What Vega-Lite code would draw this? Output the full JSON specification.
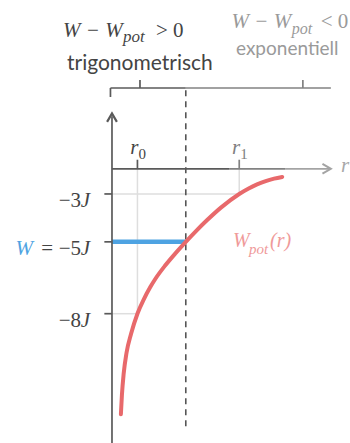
{
  "$schema": "https://vega.github.io/schema/vega-lite/v6.json",
  "width": 350,
  "height": 443,
  "autosize": "none",
  "padding": 0,
  "background": "white",
  "config": {"view": {"stroke": null}, "text": {"font": "Liberation Serif"}},
  "datasets": {
    "curve": [
      {"r": 0.35, "W": -12.2},
      {"r": 0.39, "W": -11.4},
      {"r": 0.46, "W": -10.5},
      {"r": 0.57, "W": -9.64},
      {"r": 0.75, "W": -8.84},
      {"r": 1.0, "W": -8.0},
      {"r": 1.25, "W": -7.4},
      {"r": 1.5, "W": -6.9},
      {"r": 1.72, "W": -6.52},
      {"r": 2.08, "W": -6.0},
      {"r": 2.5, "W": -5.47},
      {"r": 2.9, "W": -5.0},
      {"r": 3.32, "W": -4.53},
      {"r": 3.74, "W": -4.09},
      {"r": 4.28, "W": -3.57},
      {"r": 5.0, "W": -3.0},
      {"r": 5.37, "W": -2.77},
      {"r": 5.7, "W": -2.6},
      {"r": 6.04, "W": -2.46},
      {"r": 6.37, "W": -2.36},
      {"r": 6.69, "W": -2.29}
    ],
    "levels": [
      {"W": -3, "num": "−3"},
      {"W": -5, "num": "−5"},
      {"W": -8, "num": "−8"}
    ],
    "radii": [
      {"r": 1, "sub": "0"},
      {"r": 5, "sub": "1"}
    ],
    "turning": [{"W": -5, "r_start": 0, "r_turn": 2.9}],
    "guides": [
      {"r": 0, "r2": 5, "W": -3, "W2": -3},
      {"r": 5, "r2": 5, "W": -1.95, "W2": -3},
      {"r": 1, "r2": 1, "W": -1.95, "W2": -8},
      {"r": 0, "r2": 1, "W": -8, "W2": -8}
    ],
    "frame": [
      {"part": "W-axis", "r": 0, "r2": 0, "W": -13.4, "W2": 0.25},
      {"part": "r-axis-near", "r": 0, "r2": 4.6, "W": -1.95, "W2": -1.95},
      {"part": "r-axis-mid", "r": 4.6, "r2": 6.8, "W": -1.95, "W2": -1.95},
      {"part": "r-axis-far", "r": 6.8, "r2": 8.55, "W": -1.95, "W2": -1.95},
      {"part": "W-tick", "r": -0.3, "r2": 0, "W": -3, "W2": -3},
      {"part": "W-tick", "r": -0.3, "r2": 0, "W": -5, "W2": -5},
      {"part": "W-tick", "r": -0.3, "r2": 0, "W": -8, "W2": -8},
      {"part": "r-tick-near", "r": 1, "r2": 1, "W": -1.95, "W2": -1.57},
      {"part": "r-tick-far", "r": 5, "r2": 5, "W": -1.95, "W2": -1.57},
      {"part": "bracket-near", "r": -0.06, "r2": 2.9, "W": 1.425, "W2": 1.425},
      {"part": "bracket-near", "r": -0.06, "r2": -0.06, "W": 1.425, "W2": 1.05},
      {"part": "bracket-near", "r": 1.1, "r2": 1.1, "W": 1.425, "W2": 1.76},
      {"part": "bracket-far", "r": 2.9, "r2": 8.6, "W": 1.425, "W2": 1.425},
      {"part": "bracket-far", "r": 7.5, "r2": 7.5, "W": 1.425, "W2": 1.76},
      {"part": "turning-line", "r": 2.9, "r2": 2.9, "W": -12.7, "W2": 1.42}
    ]
  },
  "layer": [
    {
      "data": {"name": "guides"},
      "mark": {"type": "rule", "color": "#dedede", "strokeWidth": 1.5},
      "encoding": {
        "x": {"field": "r", "type": "quantitative", "axis": null, "scale": {"domain": [-4.4, 9.352], "nice": false, "zero": false}},
        "x2": {"field": "r2"},
        "y": {"field": "W", "type": "quantitative", "axis": null, "scale": {"domain": [-13.4, 5.1], "nice": false, "zero": false}},
        "y2": {"field": "W2"}
      }
    },
    {
      "data": {"name": "turning"},
      "mark": {"type": "rule", "color": "#4ea3e2", "strokeWidth": 4.5},
      "encoding": {
        "x": {"field": "r_start", "type": "quantitative", "axis": null},
        "x2": {"field": "r_turn"},
        "y": {"field": "W", "type": "quantitative", "axis": null}
      }
    },
    {
      "data": {"name": "frame"},
      "transform": [{"filter": {"field": "part", "equal": "turning-line"}}],
      "mark": {"type": "rule", "color": "#555555", "strokeWidth": 1.6, "strokeDash": [6, 5]},
      "encoding": {
        "x": {"field": "r", "type": "quantitative", "axis": null},
        "x2": {"field": "r2"},
        "y": {"field": "W", "type": "quantitative", "axis": null},
        "y2": {"field": "W2"}
      }
    },
    {
      "data": {"name": "curve"},
      "mark": {"type": "line", "color": "#e8696b", "strokeWidth": 4, "strokeCap": "round", "interpolate": "monotone"},
      "encoding": {
        "x": {"field": "r", "type": "quantitative", "axis": null},
        "y": {"field": "W", "type": "quantitative", "axis": null}
      }
    },
    {
      "data": {"name": "frame"},
      "transform": [{"filter": {"field": "part", "oneOf": ["W-axis", "r-axis-near", "W-tick", "r-tick-near", "bracket-near"]}}],
      "mark": {"type": "rule", "color": "#5a5a5a", "strokeWidth": 1.7},
      "encoding": {
        "x": {"field": "r", "type": "quantitative", "axis": null},
        "x2": {"field": "r2"},
        "y": {"field": "W", "type": "quantitative", "axis": null},
        "y2": {"field": "W2"}
      }
    },
    {
      "data": {"name": "frame"},
      "transform": [{"filter": {"field": "part", "oneOf": ["r-axis-mid", "r-tick-far", "bracket-far"]}}],
      "mark": {"type": "rule", "color": "#828282", "strokeWidth": 1.7},
      "encoding": {
        "x": {"field": "r", "type": "quantitative", "axis": null},
        "x2": {"field": "r2"},
        "y": {"field": "W", "type": "quantitative", "axis": null},
        "y2": {"field": "W2"}
      }
    },
    {
      "data": {"name": "frame"},
      "transform": [{"filter": {"field": "part", "equal": "r-axis-far"}}],
      "mark": {"type": "rule", "color": "#a4a4a4", "strokeWidth": 1.7},
      "encoding": {
        "x": {"field": "r", "type": "quantitative", "axis": null},
        "x2": {"field": "r2"},
        "y": {"field": "W", "type": "quantitative", "axis": null},
        "y2": {"field": "W2"}
      }
    },
    {
      "data": {"name": "radii"},
      "transform": [{"filter": "datum.r < 3"}],
      "layer": [
        {
          "mark": {"type": "text", "text": "r", "fontStyle": "italic", "fontSize": 21, "color": "#444444", "align": "right", "baseline": "alphabetic", "dx": 1, "dy": -6},
          "encoding": {
            "x": {"field": "r", "type": "quantitative", "axis": null},
            "y": {"datum": -1.57, "type": "quantitative", "axis": null}
          }
        },
        {
          "mark": {"type": "text", "fontSize": 15, "color": "#444444", "align": "left", "baseline": "alphabetic", "dx": 1, "dy": -1},
          "encoding": {
            "x": {"field": "r", "type": "quantitative", "axis": null},
            "y": {"datum": -1.57, "type": "quantitative", "axis": null},
            "text": {"field": "sub"}
          }
        }
      ]
    },
    {
      "data": {"name": "radii"},
      "transform": [{"filter": "datum.r > 3"}],
      "layer": [
        {
          "mark": {"type": "text", "text": "r", "fontStyle": "italic", "fontSize": 21, "color": "#808080", "align": "right", "baseline": "alphabetic", "dx": 1, "dy": -6},
          "encoding": {
            "x": {"field": "r", "type": "quantitative", "axis": null},
            "y": {"datum": -1.57, "type": "quantitative", "axis": null}
          }
        },
        {
          "mark": {"type": "text", "fontSize": 15, "color": "#808080", "align": "left", "baseline": "alphabetic", "dx": 1, "dy": -1},
          "encoding": {
            "x": {"field": "r", "type": "quantitative", "axis": null},
            "y": {"datum": -1.57, "type": "quantitative", "axis": null},
            "text": {"field": "sub"}
          }
        }
      ]
    },
    {
      "data": {"name": "levels"},
      "layer": [
        {
          "mark": {"type": "text", "fontSize": 21, "color": "#444444", "align": "right", "baseline": "middle", "dx": -9, "dy": 7},
          "encoding": {
            "x": {"datum": -0.864, "type": "quantitative", "axis": null},
            "y": {"field": "W", "type": "quantitative", "axis": null},
            "text": {"field": "num"}
          }
        },
        {
          "mark": {"type": "text", "text": "J", "fontStyle": "italic", "fontSize": 21, "color": "#444444", "align": "right", "baseline": "middle", "dy": 7},
          "encoding": {
            "x": {"datum": -0.864, "type": "quantitative", "axis": null},
            "y": {"field": "W", "type": "quantitative", "axis": null}
          }
        }
      ]
    },
    {
      "data": {"name": "turning"},
      "layer": [
        {
          "mark": {"type": "text", "text": "=", "fontSize": 21, "color": "#444444", "align": "right", "baseline": "middle", "dx": -37, "dy": 7},
          "encoding": {
            "x": {"datum": -0.864, "type": "quantitative", "axis": null},
            "y": {"field": "W", "type": "quantitative", "axis": null}
          }
        },
        {
          "mark": {"type": "text", "text": "W", "fontStyle": "italic", "fontSize": 21, "color": "#4ea3e2", "align": "right", "baseline": "middle", "dx": -57, "dy": 7},
          "encoding": {
            "x": {"datum": -0.864, "type": "quantitative", "axis": null},
            "y": {"field": "W", "type": "quantitative", "axis": null}
          }
        }
      ]
    },
    {
      "data": {"values": [{}]},
      "layer": [
        {
          "mark": {"type": "point", "shape": "M-0.7,1.2L0,0L0.7,1.2", "size": 196, "filled": false, "color": "#5a5a5a", "strokeWidth": 2.2, "opacity": 1},
          "encoding": {
            "x": {"datum": 0, "type": "quantitative", "axis": null},
            "y": {"datum": 0.36, "type": "quantitative", "axis": null}
          }
        },
        {
          "mark": {"type": "point", "shape": "M-1.2,-0.7L0,0L-1.2,0.7", "size": 196, "filled": false, "color": "#a4a4a4", "strokeWidth": 2, "opacity": 1},
          "encoding": {
            "x": {"datum": 8.6, "type": "quantitative", "axis": null},
            "y": {"datum": -1.95, "type": "quantitative", "axis": null}
          }
        },
        {
          "mark": {"type": "text", "text": "r", "fontStyle": "italic", "fontSize": 21, "color": "#a8a8a8", "align": "left", "baseline": "middle", "dy": -3},
          "encoding": {
            "x": {"datum": 9.0, "type": "quantitative", "axis": null},
            "y": {"datum": -1.95, "type": "quantitative", "axis": null}
          }
        },
        {
          "mark": {"type": "text", "text": "W − W", "fontStyle": "italic", "fontSize": 21, "color": "#444444", "align": "left", "baseline": "alphabetic"},
          "encoding": {
            "x": {"datum": -1.925, "type": "quantitative", "axis": null},
            "y": {"datum": 3.555, "type": "quantitative", "axis": null}
          }
        },
        {
          "mark": {"type": "text", "text": "pot", "fontStyle": "italic", "fontSize": 17, "color": "#444444", "align": "left", "baseline": "alphabetic"},
          "encoding": {
            "x": {"datum": 0.432, "type": "quantitative", "axis": null},
            "y": {"datum": 3.346, "type": "quantitative", "axis": null}
          }
        },
        {
          "mark": {"type": "text", "text": "> 0", "fontSize": 21, "color": "#444444", "align": "left", "baseline": "alphabetic"},
          "encoding": {
            "x": {"datum": 1.73, "type": "quantitative", "axis": null},
            "y": {"datum": 3.555, "type": "quantitative", "axis": null}
          }
        },
        {
          "mark": {"type": "text", "text": "trigonometrisch", "font": "Lato", "fontSize": 21, "color": "#444444", "align": "left", "baseline": "alphabetic"},
          "encoding": {
            "x": {"datum": -1.768, "type": "quantitative", "axis": null},
            "y": {"datum": 2.177, "type": "quantitative", "axis": null}
          }
        },
        {
          "mark": {"type": "text", "text": "W − W", "fontStyle": "italic", "fontSize": 21, "color": "#9a9a9a", "align": "left", "baseline": "alphabetic"},
          "encoding": {
            "x": {"datum": 4.7, "type": "quantitative", "axis": null},
            "y": {"datum": 3.931, "type": "quantitative", "axis": null}
          }
        },
        {
          "mark": {"type": "text", "text": "pot", "fontStyle": "italic", "fontSize": 16, "color": "#9a9a9a", "align": "left", "baseline": "alphabetic"},
          "encoding": {
            "x": {"datum": 7.06, "type": "quantitative", "axis": null},
            "y": {"datum": 3.68, "type": "quantitative", "axis": null}
          }
        },
        {
          "mark": {"type": "text", "text": "< 0", "fontSize": 21, "color": "#9a9a9a", "align": "left", "baseline": "alphabetic"},
          "encoding": {
            "x": {"datum": 8.2, "type": "quantitative", "axis": null},
            "y": {"datum": 3.931, "type": "quantitative", "axis": null}
          }
        },
        {
          "mark": {"type": "text", "text": "exponentiell", "font": "Lato", "fontSize": 19, "color": "#9a9a9a", "align": "left", "baseline": "alphabetic"},
          "encoding": {
            "x": {"datum": 4.872, "type": "quantitative", "axis": null},
            "y": {"datum": 2.803, "type": "quantitative", "axis": null}
          }
        },
        {
          "mark": {"type": "text", "text": "W", "fontStyle": "italic", "fontSize": 20, "color": "#ef9a9a", "align": "left", "baseline": "alphabetic"},
          "encoding": {
            "x": {"datum": 4.754, "type": "quantitative", "axis": null},
            "y": {"datum": -5.215, "type": "quantitative", "axis": null}
          }
        },
        {
          "mark": {"type": "text", "text": "pot", "fontStyle": "italic", "fontSize": 15, "color": "#ef9a9a", "align": "left", "baseline": "alphabetic"},
          "encoding": {
            "x": {"datum": 5.383, "type": "quantitative", "axis": null},
            "y": {"datum": -5.507, "type": "quantitative", "axis": null}
          }
        },
        {
          "mark": {"type": "text", "text": "(r)", "fontStyle": "italic", "fontSize": 20, "color": "#ef9a9a", "align": "left", "baseline": "alphabetic"},
          "encoding": {
            "x": {"datum": 6.208, "type": "quantitative", "axis": null},
            "y": {"datum": -5.215, "type": "quantitative", "axis": null}
          }
        }
      ]
    }
  ]
}
